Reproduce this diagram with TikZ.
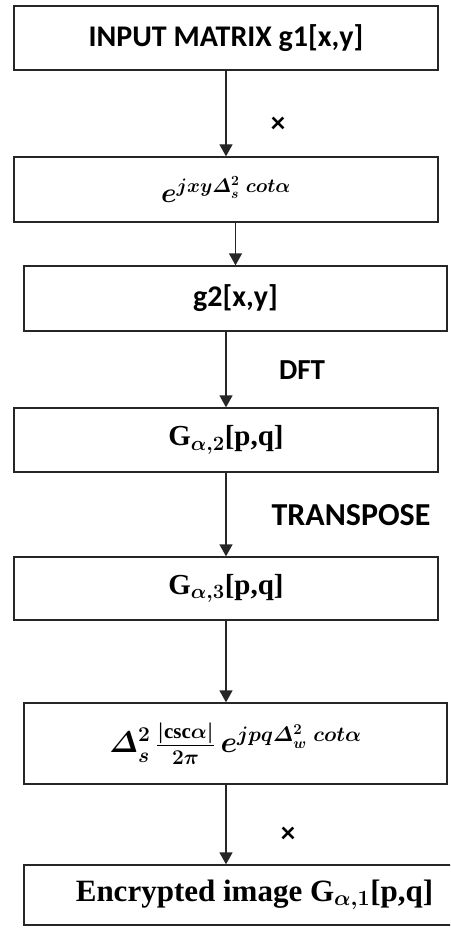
\RequirePackage{fix-cm}
\documentclass[tikz,border=0pt]{standalone}
\usepackage{amsmath}
\usepackage{fontspec}
\setmainfont{Liberation Serif}
\newfontfamily\lblfont{Carlito}
\usetikzlibrary{arrows.meta}

\begin{document}
\begin{tikzpicture}[x=1pt,y=-1pt,
  box/.style={draw=black!85, line width=1.3pt, inner sep=0pt, fill=white},
  sanstext/.style={font=\lblfont\bfseries\fontsize{30}{33}\selectfont},
  seriftext/.style={font=\bfseries\boldmath\fontsize{#1}{34}\selectfont},
  seriftext/.default=29,
  mathtext/.style={font=\boldmath\fontsize{#1}{34}\selectfont},
  mathtext/.default=28,
  flow/.style={draw=black!85, line width=1.3pt, -{Triangle[width=13pt,length=12pt]}},
  opname/.style={font=\lblfont\bfseries\fontsize{#1}{34}\selectfont, inner sep=0pt},
  opname/.default=29
]
\useasboundingbox (0,0) rectangle (450,928);
\clip (0,0) rectangle (450,928);

% processing stages
\node[box, sanstext, minimum width=424pt, minimum height=64pt] (b1) at (226,38)
  {INPUT MATRIX g1[x,y]};
\node[box, mathtext, minimum width=424pt, minimum height=65pt] (b2) at (226,189.5)
  {$e^{jxy\varDelta_s^2\;cot\alpha}$};
\node[box, sanstext, minimum width=423pt, minimum height=65pt] (b3) at (235.5,298.5)
  {g2[x,y]};
\node[box, seriftext, minimum width=424pt, minimum height=64pt] (b4) at (226,440)
  {G$_{\alpha,2}$[p,q]};
\node[box, seriftext, minimum width=424pt, minimum height=63pt] (b5) at (226,588.5)
  {G$_{\alpha,3}$[p,q]};
\node[box, mathtext=30, minimum width=423pt, minimum height=81pt] (b6) at (235.5,743.5)
  {$\varDelta_s^2\,\frac{|\mathrm{csc}\alpha|}{2\pi}\,e^{jpq\varDelta_w^2\;cot\alpha}$};
\node[box, seriftext=31, minimum width=461pt, minimum height=60pt] (b7) at (254.5,895)
  {Encrypted image G$_{\alpha,1}$[p,q]};

% connectors between stages
\draw[flow] (b1.south) -- (b2.north);
\draw[flow] (b2.south -| b3.north) -- (b3.north);
\draw[flow] (b3.south -| b4.north) -- (b4.north);
\draw[flow] (b4.south) -- (b5.north);
\draw[flow] (b5.south) -- (b6.north -| b5.south);
\draw[flow] (b6.south -| b5.south) -- (b7.north -| b5.south);

% operation labels
\node[opname] (op1) at (278,125) {×};
\node[opname] (op2) at (302,370) {DFT};
\node[opname=32] (op3) at (351,515) {TRANSPOSE};
\node[opname] (op4) at (288,835) {×};
\end{tikzpicture}
\end{document}
